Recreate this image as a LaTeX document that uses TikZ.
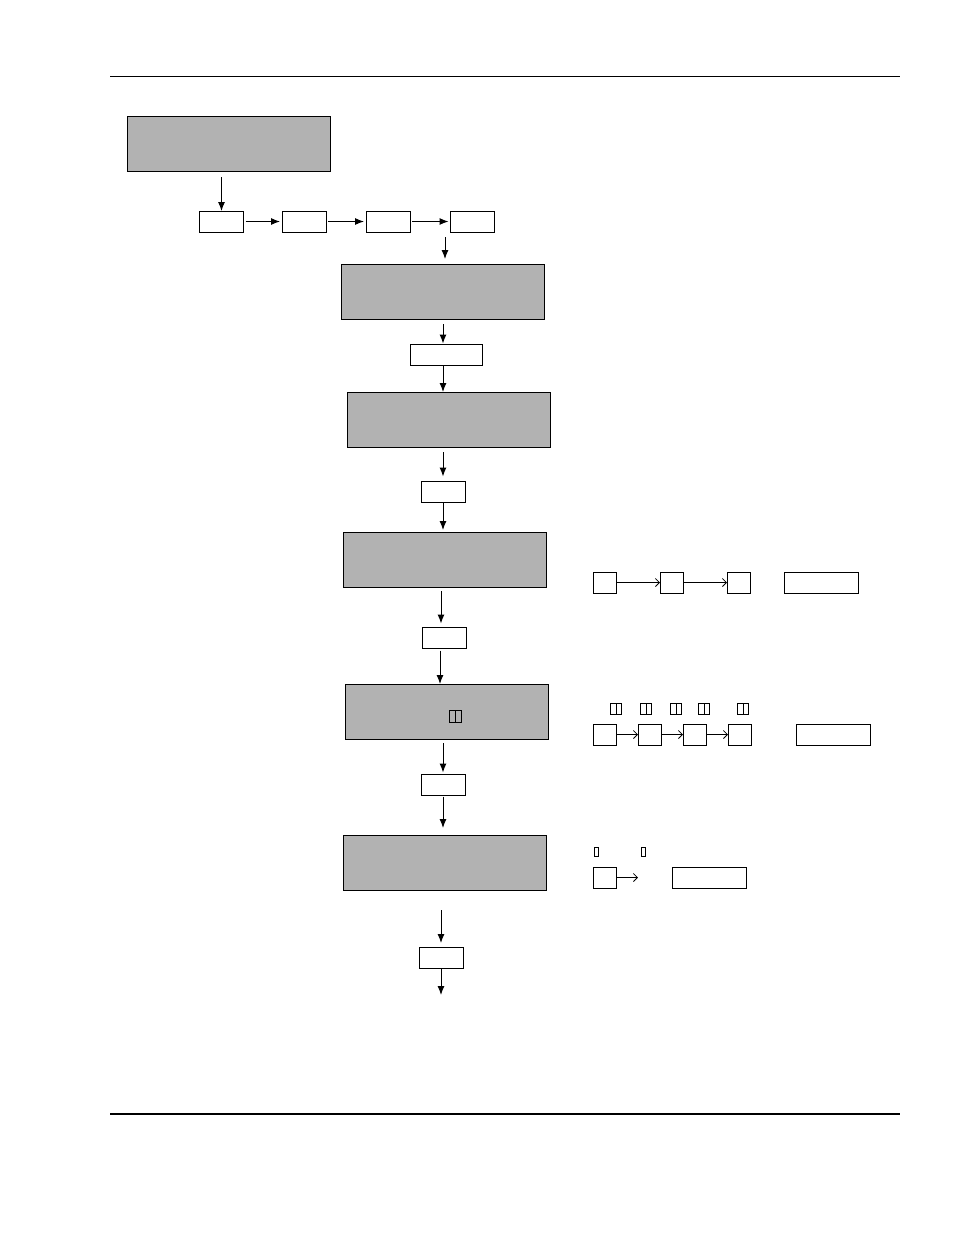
\documentclass[tikz,border=0pt]{standalone}
\usetikzlibrary{arrows.meta}

\tikzset{
  grayblock/.style={draw, line width=0.9pt, fill=black!30, inner sep=0pt, outer sep=0pt,
    minimum width=203pt, minimum height=55pt},
  smallbox/.style={draw, line width=1pt, fill=white, inner sep=0pt, outer sep=0pt,
    minimum width=44pt, minimum height=21pt},
  tinybox/.style={draw, line width=1pt, inner sep=0pt, outer sep=0pt,
    minimum width=23pt, minimum height=21pt},
  longbox/.style={draw, line width=1pt, inner sep=0pt, outer sep=0pt,
    minimum width=74pt, minimum height=21pt},
  glyph/.style={draw, line width=1pt, inner sep=0pt, outer sep=0pt,
    minimum width=5.5pt, minimum height=11pt},
  flow/.style={line width=1pt, -{Latex[length=9pt,width=7pt]}},
  thin flow/.style={line width=0.8pt, -{Straight Barb[length=4pt,width=8pt]}}
}

\begin{document}
\begin{tikzpicture}[x=1pt, y=-1pt]
  \useasboundingbox (0,0) rectangle (954,1235);

  % Header and footer rules.
  \draw[line width=1pt] (110,76) -- (900,76);
  \draw[line width=1.8pt] (110,1114) -- (900,1114);

  % First block and the row of four steps.
  \node[grayblock] (g1) at (228.5,143.5) {};
  \node[smallbox] (b1) at (221.5,221.5) {};
  \node[smallbox] (b2) at (304,221.5) {};
  \node[smallbox] (b3) at (388,221.5) {};
  \node[smallbox] (b4) at (472.5,221.5) {};
  \draw[flow, shorten <=6pt] (b1.north |- g1.south) -- (b1.north);
  \draw[flow, shorten <=2pt, shorten >=2pt] (b1) -- (b2);
  \draw[flow, shorten <=2pt, shorten >=2pt] (b2) -- (b3);
  \draw[flow, shorten <=2pt, shorten >=2pt] (b3) -- (b4);

  % Main column.
  \node[grayblock] (g2) at (442.5,291.5) {};
  \node[smallbox, minimum width=72pt] (s5) at (446,355) {};
  \node[grayblock] (g3) at (448.5,419.5) {};
  \node[smallbox] (s6) at (443,492) {};
  \node[grayblock] (g4) at (445,559.5) {};
  \node[smallbox] (s7) at (444.5,638) {};
  \node[grayblock] (g5) at (446.5,711.5) {};
  \node[smallbox] (s8) at (443,785) {};
  \node[grayblock] (g6) at (445,862.5) {};
  \node[smallbox] (s9) at (441,957.5) {};
  \coordinate (end) at (441,995);

  % Glyph inside the fifth block.
  \node[glyph, minimum width=6pt, minimum height=12pt] (t0) at (452.5,716) {};
  \node[glyph, minimum width=6pt, minimum height=12pt] at (458.5,716) {};

  % Arrows down the column.
  \draw[flow, shorten <=5pt, shorten >=5pt] ([xshift=2.5pt]g2.north |- b4.south) -- ([xshift=2.5pt]g2.north);
  \draw[flow, shorten <=5pt, shorten >=1pt] ([xshift=0.5pt]g2.south) -- ([xshift=0.5pt]g2.south |- s5.north);
  \draw[flow] ([xshift=0.5pt]g2.south |- s5.south) -- ([xshift=0.5pt]g2.south |- g3.north);
  \draw[flow, shorten <=5pt, shorten >=5pt] (s6.north |- g3.south) -- (s6.north);
  \draw[flow, shorten >=2pt] (s6.south) -- (s6.south |- g4.north);
  \draw[flow, shorten <=4pt, shorten >=4pt] ([xshift=-3.5pt]s7.north |- g4.south) -- ([xshift=-3.5pt]s7.north);
  \draw[flow, shorten <=2pt] ([xshift=-4.5pt]s7.south) -- ([xshift=-4.5pt]s7.south |- g5.north);
  \draw[flow, shorten <=4pt, shorten >=2pt] (s8.north |- g5.south) -- (s8.north);
  \draw[flow, shorten <=1pt, shorten >=7pt] (s8.south) -- (s8.south |- g6.north);
  \draw[flow, shorten <=20pt, shorten >=4pt] (s9.north |- g6.south) -- (s9.north);
  \draw[flow, shorten <=1pt] (s9.south) -- (end);

  % First side row.
  \node[tinybox] (r1) at (604.5,582.5) {};
  \node[tinybox] (r2) at (671.5,582.5) {};
  \node[tinybox] (r3) at (738.5,582.5) {};
  \node[longbox] (r4) at (821,582.5) {};
  \draw[thin flow] (r1) -- (r2);
  \draw[thin flow] (r2) -- (r3);

  % Second side row.
  \node[tinybox] (q1) at (604.5,734.5) {};
  \node[tinybox] (q2) at (649.5,734.5) {};
  \node[tinybox] (q3) at (694.5,734.5) {};
  \node[tinybox] (q4) at (739.5,734.5) {};
  \node[longbox] (q5) at (833,734.5) {};
  \draw[thin flow] (q1) -- (q2);
  \draw[thin flow] (q2) -- (q3);
  \draw[thin flow] (q3) -- (q4);
  \foreach \gx in {616,646,676,704,743} {
    \node[glyph] at (\gx-2.75,709) {};
    \node[glyph] at (\gx+2.75,709) {};
  }

  % Third side row.
  \node[tinybox] (p1) at (604.5,877.5) {};
  \coordinate (p2) at (638,877.5);
  \node[longbox] (p3) at (709.5,877.5) {};
  \draw[thin flow] (p1) -- (p2);
  \node[glyph, minimum width=3.5pt, minimum height=9pt] at (596.5,852) {};
  \node[glyph, minimum width=3.5pt, minimum height=9pt] at (643.5,852) {};

\end{tikzpicture}
\end{document}
